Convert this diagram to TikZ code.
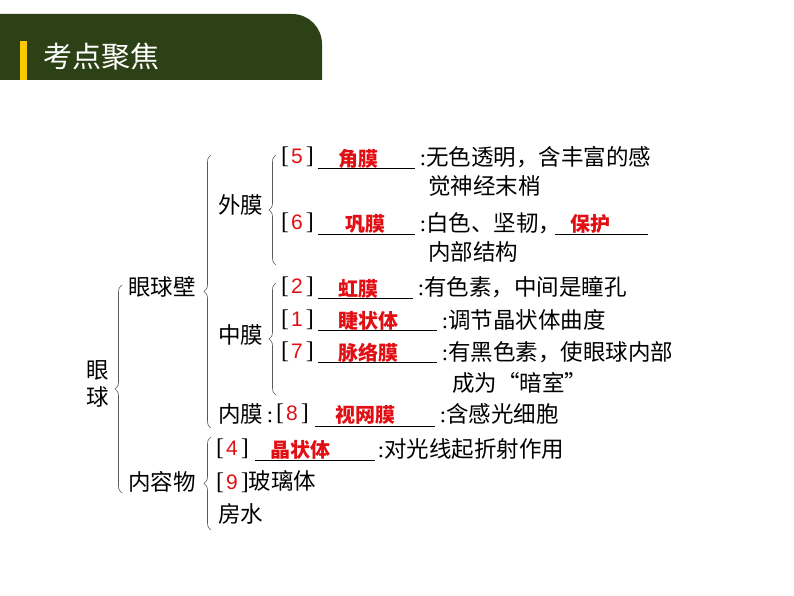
\documentclass[tikz,border=0pt]{standalone}
\usepackage{fontspec}
\setmainfont{Noto Sans CJK SC}
\newfontfamily\brk{Liberation Serif}
\newfontfamily\lsans{Liberation Sans}
\usetikzlibrary{decorations.pathreplacing}
\definecolor{hdr}{RGB}{45,65,22}
\definecolor{ylw}{RGB}{250,200,0}
\definecolor{rd}{RGB}{225,15,20}
\tikzset{
 txt/.style={anchor=west,inner sep=0pt,font=\fontsize{22.5}{22.5}\selectfont},
 ans/.style={inner sep=0pt,text=rd,font=\fontsize{20}{20}\selectfont\bfseries},
 br/.style={decorate,decoration={brace,amplitude=7pt,mirror},line width=0.6pt,gray!70!black},
 blank/.style={line width=0.7pt}
}
\newcommand{\nb}[1]{{\brk\fontsize{24}{24}\selectfont[\kern2pt\textcolor{rd}{\lsans\fontsize{21}{21}\selectfont#1}\kern3pt]}}
\newcommand{\cl}{{\brk\,:}}
\begin{document}
\begin{tikzpicture}[x=1pt,y=-1pt]
\useasboundingbox (0,0) rectangle (794,596);
\fill[hdr] (0,80) -- (0,14) [rounded corners=30pt] -- (322,14) [sharp corners] -- (322,80) -- cycle;
\fill[ylw] (20,41) rectangle (27,80);
\node[anchor=west,inner sep=0pt,text=white,font=\fontsize{29}{29}\selectfont] (title) at (43,57) {考点聚焦};
% braces
\draw[br] (122,285) -- (122,493);
\draw[br] (211,155) -- (211,428);
\draw[br] (276,155) -- (276,265);
\draw[br] (276,283) -- (276,395);
\draw[br] (211,437) -- (211,530);
% left labels
\node[txt] (yan) at (86,370) {眼};
\node[txt] (qiu) at (86,397) {球};
\node[txt] (bi) at (128,287) {眼球壁};
\node[txt] (wai) at (218,205) {外膜};
\node[txt] (zhong) at (218,335) {中膜};
\node[txt] (nei) at (218,414) {内膜\cl};
\node[txt] (rong) at (128,482) {内容物};
% rows
\node[txt] (n5) at (281,157) {\nb{5}};
\draw[blank] (318,168) -- (415,168);
\node[ans] (a5) at (358,159) {角膜};
\node[txt] (t1) at (416,157) {\cl 无色透明，含丰富的感};
\node[txt] (t2) at (428,186) {觉神经末梢};
\node[txt] (n6) at (281,223) {\nb{6}};
\draw[blank] (318,234) -- (415,234);
\node[ans] (a6) at (365,224) {巩膜};
\node[txt] (t3) at (416,223) {\cl 白色、坚韧，};
\draw[blank] (555,234) -- (648,234);
\node[ans] (a6b) at (590,224) {保护};
\node[txt] (t4) at (428,252) {内部结构};
\node[txt] (n2) at (281,287) {\nb{2}};
\draw[blank] (318,298) -- (413,298);
\node[ans] (a2) at (358,289) {虹膜};
\node[txt] (t5) at (414,287) {\cl 有色素，中间是瞳孔};
\node[txt] (n1) at (281,320) {\nb{1}};
\draw[blank] (318,330) -- (437,330);
\node[ans] (a1) at (368,321) {睫状体};
\node[txt] (t6) at (438,320) {\cl 调节晶状体曲度};
\node[txt] (n7) at (281,352) {\nb{7}};
\draw[blank] (318,362) -- (437,362);
\node[ans] (a7) at (368,353) {脉络膜};
\node[txt] (t7) at (438,352) {\cl 有黑色素，使眼球内部};
\node[txt] (t8) at (452,383) {成为“暗室”};
\node[txt] (n8) at (276,414) {\nb{8}};
\draw[blank] (315,426) -- (435,426);
\node[ans] (a8) at (365,415) {视网膜};
\node[txt] (t9) at (436,414) {\cl 含感光细胞};
\node[txt] (n4) at (216,449) {\nb{4}};
\draw[blank] (255,460) -- (375,460);
\node[ans] (a4) at (300,450) {晶状体};
\node[txt] (t10) at (374,449) {\cl 对光线起折射作用};
\node[txt] (n9) at (216,482) {\nb{9}玻璃体};
\node[txt] (t11) at (218,514) {房水};
\end{tikzpicture}
\end{document}
